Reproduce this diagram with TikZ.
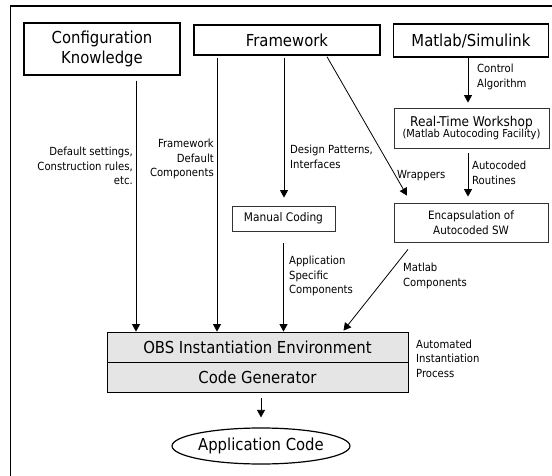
\documentclass[tikz,border=0pt]{standalone}
\usepackage{fontspec}
\setmainfont{DejaVu Sans Condensed}
\usetikzlibrary{arrows.meta,shapes.geometric}
\begin{document}
\begin{tikzpicture}[x=1pt,y=-1pt,
  big/.style={font=\fontsize{16.5}{20}\selectfont},
  lbl/.style={font=\fontsize{11.2}{14.5}\selectfont, inner sep=0pt},
  topbox/.style={draw, line width=1.5pt, inner sep=0pt, align=center, big},
  subbox/.style={draw=black!80, line width=0.8pt, inner sep=0pt, align=center},
  genbox/.style={draw, line width=0.8pt, fill=gray!20, inner sep=0pt, big},
  arr/.style={-{Triangle[width=8pt,length=7.5pt]}, line width=0.8pt},
]
\useasboundingbox (0,0) rectangle (552,476);
\draw[line width=1.2pt] (10.5,476) -- (10.5,6) -- (552,6);

% boxes
\node[topbox, minimum width=156pt, minimum height=52pt] (conf) at (102,49) {Configuration\\Knowledge};
\node[topbox, minimum width=186pt, minimum height=30pt] (fw) at (287,40) {Framework};
\node[topbox, minimum width=155pt, minimum height=33pt] (ml) at (471,40.5) {Matlab/Simulink};
\node[subbox, minimum width=155pt, minimum height=40pt] (rtw) at (471.5,128)
  {{\fontsize{13.5}{15}\selectfont Real-Time Workshop}\\[-1pt]{\fontsize{11}{12}\selectfont (Matlab Autocoding Facility)}};
\node[subbox, minimum width=154pt, minimum height=39pt, font=\fontsize{11.5}{15}\selectfont] (enc) at (471,222.5) {Encapsulation of\\Autocoded SW};
\node[subbox, minimum width=103pt, minimum height=25pt, font=\fontsize{11.8}{15}\selectfont] (man) at (283.5,218.5) {Manual Coding};
\node[genbox, minimum width=301pt, minimum height=30pt] (obs) at (257.5,347) {OBS Instantiation Environment};
\node[genbox, minimum width=301pt, minimum height=30pt] (cg) at (257.5,377) {Code Generator};
\node[draw, ellipse, line width=1.2pt, minimum width=178pt, minimum height=36pt, inner sep=0pt, big] (app) at (261,446) {Application Code};

% labels
\node[lbl, anchor=east, align=right] (l1) at (133,166) {Default settings,\\Construction rules,\\etc.};
\node[lbl, anchor=east, align=right] (l2) at (214,159) {Framework\\Default\\Components};
\node[lbl, anchor=west, align=left] (l3) at (290,157) {Design Patterns,\\Interfaces};
\node[lbl, anchor=west] (l4) at (397,176) {Wrappers};
\node[lbl, anchor=west, align=left] (l5) at (477,77) {Control\\Algorithm};
\node[lbl, anchor=west, align=left] (l6) at (472,173) {Autocoded\\Routines};
\node[lbl, anchor=west, align=left] (l7) at (289,276) {Application\\Specific\\Components};
\node[lbl, anchor=west, align=left] (l8) at (403,276) {Matlab\\Components};
\node[lbl, anchor=west, align=left] (l9) at (416,358.5) {Automated\\Instantiation\\Process};

% connectors
\coordinate (a1) at ([xshift=34pt,yshift=-5pt]conf.south);
\draw[arr] (a1) -- (a1 |- obs.north);
\coordinate (a2) at ([xshift=-70pt,yshift=-2pt]fw.south);
\draw[arr] (a2) -- (a2 |- obs.north);
\coordinate (a3) at ([xshift=-3pt,yshift=-2pt]fw.south);
\draw[arr, shorten >=8pt] (a3) -- (a3 |- man.north);
\coordinate (a4) at ([xshift=40pt,yshift=-1pt]fw.south);
\draw[arr] (a4) -- ([xshift=-64pt,yshift=7pt]enc.north);
\coordinate (a5) at ([xshift=-3pt]ml.south);
\draw[arr, shorten >=5pt] (a5) -- (a5 |- rtw.north);
\coordinate (a6) at ([xshift=-3.5pt,yshift=-5pt]rtw.south);
\draw[arr, shorten >=6pt] (a6) -- (a6 |- enc.north);
\coordinate (a7) at ([yshift=-12pt]man.south);
\draw[arr] (a7) -- (a7 |- obs.north);
\coordinate (a8) at ([xshift=-63pt,yshift=-7pt]enc.south);
\draw[arr] (a8) -- ([xshift=86pt,yshift=1pt]obs.north);
\coordinate (a9) at ([yshift=-6pt]cg.south -| app.north);
\draw[arr] (a9) -- ([yshift=10pt]app.north);
\end{tikzpicture}
\end{document}
